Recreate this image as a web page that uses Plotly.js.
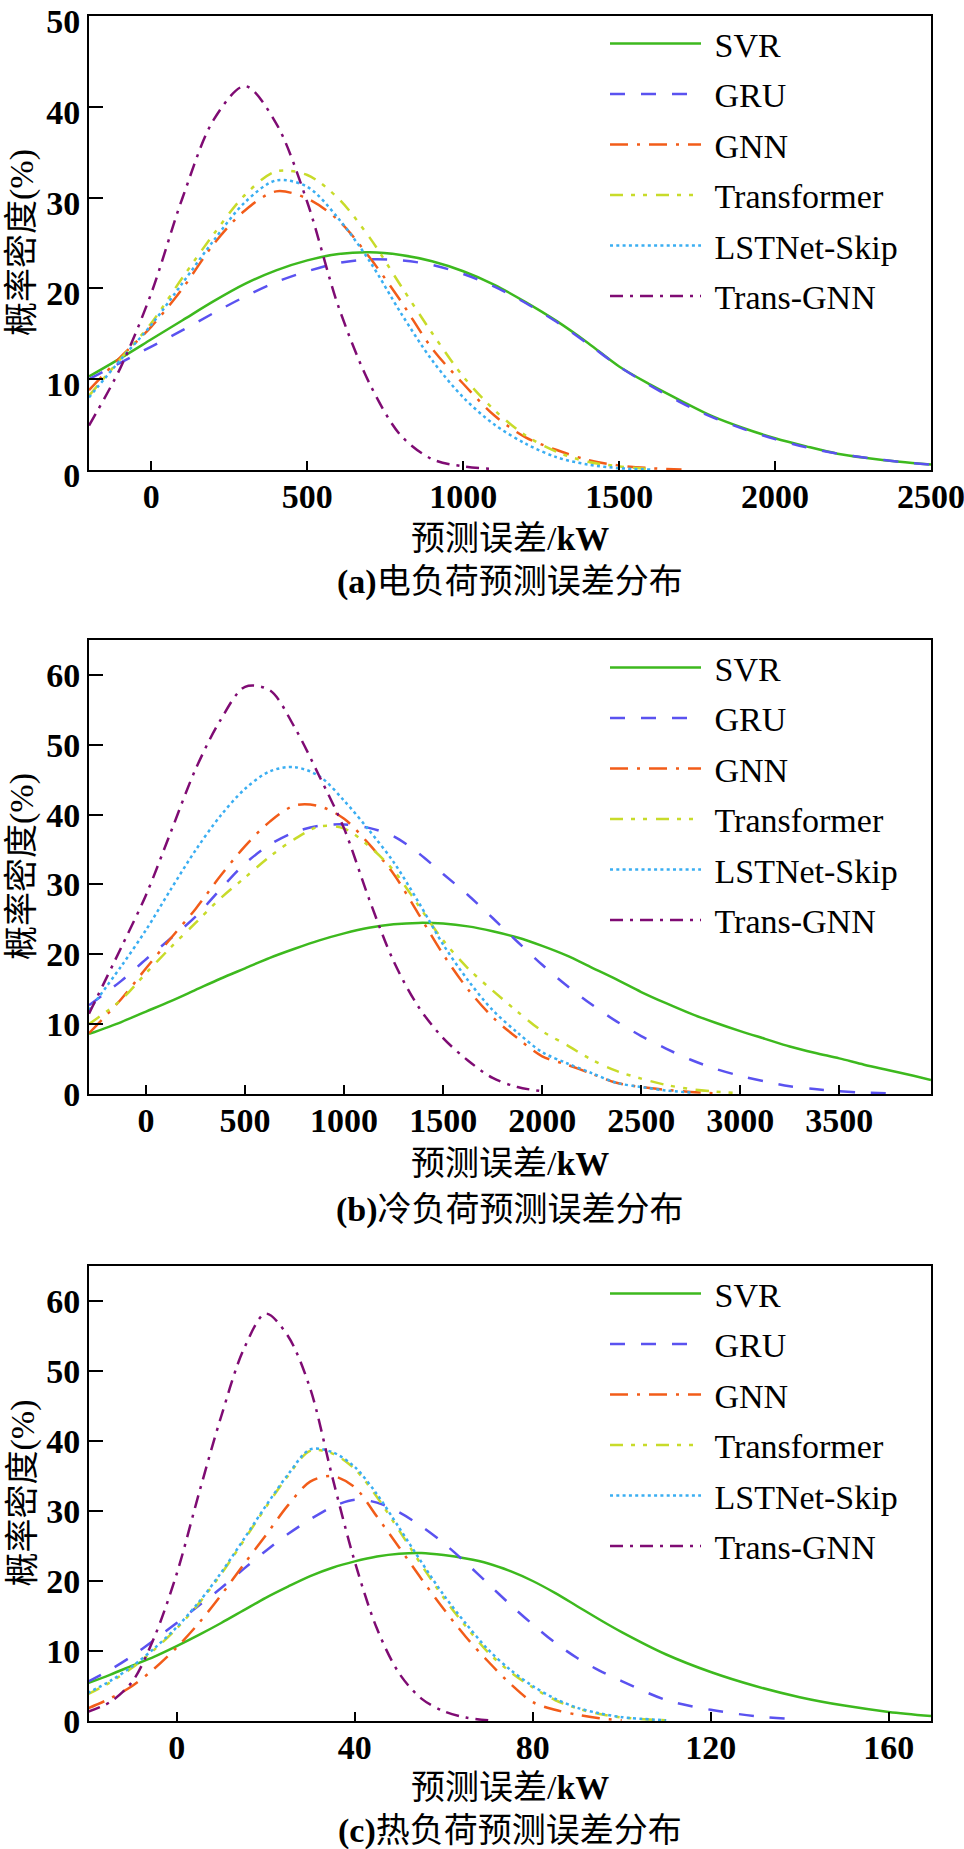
<!DOCTYPE html>
<html>
<head>
<meta charset="utf-8">
<script src="https://cdn.plot.ly/plotly-3.0.1.min.js"></script>
<style>body{margin:0;background:#fff;}#chart{width:964px;height:1849px;}</style>
</head>
<body>
<div id="chart"></div>
<script>
// ---------- series names ----------
const seriesNames = ['SVR', 'GRU', 'GNN', 'Transformer', 'LSTNet-Skip', 'Trans-GNN'];

// ---------- panel (a): electric load, error in kW ----------
const xA = [-200,-100,0,100,200,300,400,500,600,700,800,900,1000,1100,1200,1300,1400,1500,1600,1700,1800,1900,2000,2100,2200,2300,2400,2500];
const aSVR   = [10.3,12.3,14.4,16.5,18.6,20.5,22.0,23.1,23.8,24.0,23.7,23.0,21.9,20.4,18.5,16.4,14.0,11.4,9.4,7.6,5.9,4.6,3.5,2.6,1.8,1.3,0.9,0.6];
const aGRU   = [10.0,11.8,13.6,15.4,17.3,19.1,20.7,21.9,22.8,23.2,23.1,22.6,21.6,20.2,18.4,16.3,13.9,11.4,9.3,7.4,5.8,4.5,3.4,2.5,1.8,1.3,0.9,0.6];
const aGNN   = [8.8,12.4,15.8,20.0,24.9,28.6,30.7,29.9,27.5,23.4,18.6,13.4,9.5,6.0,3.6,2.2,1.1,0.5,0.2,0.05];
const aTrans = [8.2,12.2,16.2,21.2,26.0,30.3,32.9,32.5,29.9,25.6,20.3,15.1,10.3,6.6,3.8,2.0,0.9,0.4,0.1];
const aLST   = [8.0,12.1,16.0,20.6,25.3,29.5,31.9,31.2,27.7,23.0,17.3,12.1,8.0,5.0,2.9,1.4,0.6,0.2,0.05];
const aTGNN  = [4.9,11.2,19.5,30.0,38.6,42.3,38.2,29.5,18.0,9.5,3.8,1.2,0.4,0.1];

// ---------- panel (b): cooling load ----------
const xB = [-288,-125,0,125,250,375,500,625,750,875,1000,1125,1250,1375,1500,1625,1750,1875,2000,2125,2250,2375,2500,2625,2750,2875,3000,3125,3250,3375,3500,3625,3750,3875,3963];
const bSVR   = [8.6,10.3,11.8,13.3,14.9,16.5,18.0,19.5,20.8,22.0,23.0,23.8,24.3,24.5,24.4,24.0,23.3,22.4,21.2,19.8,18.1,16.4,14.6,13.0,11.5,10.2,9.0,7.9,6.8,5.9,5.1,4.2,3.4,2.6,2.0];
const bGRU   = [12.7,16.2,19.3,22.3,25.4,29.3,33.0,35.7,37.5,38.4,38.6,38.1,36.9,34.5,31.5,28.5,25.2,21.8,18.5,15.5,12.8,10.4,8.3,6.5,4.9,3.6,2.6,1.8,1.1,0.7,0.4,0.2,0.1];
const bGNN   = [8.7,13.6,18.0,22.3,26.5,31.2,35.5,39.0,41.3,41.2,39.4,35.8,31.5,25.8,20.0,15.0,11.0,8.0,5.4,4.2,2.9,1.6,1.0,0.6,0.3,0.1];
const bTrans = [10.0,13.5,17.3,21.0,24.5,28.0,31.0,34.0,36.5,38.3,38.0,35.5,32.0,27.0,22.0,18.0,14.8,11.8,9.0,7.0,4.9,3.3,2.2,1.3,0.7,0.35,0.1];
const bLST   = [12.0,18.3,23.5,29.3,34.9,39.8,43.7,46.2,46.8,45.5,42.0,37.8,33.2,27.5,21.4,16.3,12.0,8.8,6.0,4.4,3.0,1.6,1.0,0.5,0.2];
const bTGNN  = [11.5,21.0,28.5,37.5,46.5,53.5,58.3,57.8,52.5,45.5,38.0,28.0,19.0,12.5,8.0,4.8,2.3,1.0,0.4];

// ---------- panel (c): heating load ----------
const xC = [-20,-15,-10,-5,0,5,10,15,20,25,30,35,40,45,50,55,60,65,70,75,80,85,90,95,100,110,120,130,140,150,160,169.5];
const cSVR   = [5.4,6.6,7.9,9.2,10.7,12.3,14.0,15.8,17.6,19.2,20.7,21.9,22.8,23.5,23.9,24.0,23.7,23.2,22.5,21.4,20.0,18.3,16.4,14.5,12.7,9.5,7.0,5.0,3.4,2.2,1.3,0.7];
const cGRU   = [5.6,7.3,9.3,11.6,14.0,16.5,19.0,21.7,24.3,26.7,28.8,30.6,31.6,31.2,29.8,27.8,25.4,22.6,19.6,16.6,13.8,11.2,9.0,7.2,5.7,3.0,1.6,0.7,0.2];
const cGNN   = [1.8,3.2,5.0,7.5,10.5,14.0,18.0,22.3,26.5,30.8,34.2,35.0,33.4,29.2,24.8,20.3,16.0,12.0,8.5,5.3,2.7,1.6,0.9,0.4,0.1];
const cTrans = [3.8,5.5,7.6,10.2,13.2,16.8,21.0,25.7,30.5,35.0,38.6,38.2,36.0,32.0,27.2,22.3,17.6,13.5,9.8,7.0,4.8,3.0,1.8,1.0,0.5,0.1];
const cLST   = [4.0,5.7,7.8,10.4,13.4,17.0,21.2,25.9,30.7,35.2,38.8,38.4,36.3,32.4,27.6,22.7,18.0,13.9,10.2,7.3,5.0,3.2,1.9,1.1,0.55,0.1];
const cTGNN  = [1.3,2.7,5.6,12.0,21.0,32.5,43.5,53.0,58.2,55.0,47.5,34.8,22.8,13.2,6.8,3.2,1.4,0.5,0.1];

// ---------- tick labels ----------
const xTicksA = [0, 500, 1000, 1500, 2000, 2500];
const xTicksB = [0, 500, 1000, 1500, 2000, 2500, 3000, 3500];
const xTicksC = [0, 40, 80, 120, 160];
const yTicksA = [0, 10, 20, 30, 40, 50];
const yTicksBC = [0, 10, 20, 30, 40, 50, 60];

// ---------- texts ----------
const yTitle = '概率密度(%)';
const xTitle = '预测误差/<b>kW</b>';
const captions = ['<b>(a)</b>电负荷预测误差分布', '<b>(b)</b>冷负荷预测误差分布', '<b>(c)</b>热负荷预测误差分布'];

// ---------- styles ----------
const colors = ['#3DB91E', '#5A52F0', '#F25C19', '#C8DB2A', '#3AAEF2', '#7F0B73'];
const dashes = ['solid', '15px,16px', '18px,9px,3px,9px', '13px,8px,4px,8px,4px,9px', '3px,3.3px', '13px,7px,3px,7px'];

const W = 964, H = 1849;
const serif = 'Liberation Serif, Times New Roman, serif';
const cjk = 'Liberation Serif, Noto Sans CJK SC, serif';

const panels = [
  {x: xA, ys: [aSVR, aGRU, aGNN, aTrans, aLST, aTGNN], xr: [-200, 2500], yr: [0, 50.02], xt: xTicksA, yt: yTicksA, top: 16, bot: 470, xtitle: 538, cap: 582, yshift: 5},
  {x: xB, ys: [bSVR, bGRU, bGNN, bTrans, bLST, bTGNN], xr: [-288, 3963], yr: [0, 65], xt: xTicksB, yt: yTicksBC, top: 640, bot: 1094, xtitle: 1163, cap: 1210, yshift: 0},
  {x: xC, ys: [cSVR, cGRU, cGNN, cTrans, cLST, cTGNN], xr: [-19.7, 169.5], yr: [0, 65], xt: xTicksC, yt: yTicksBC, top: 1266, bot: 1721, xtitle: 1787, cap: 1831, yshift: 0}
];

const left = 89, right = 931;
const traces = [];
const layout = {
  width: W, height: H,
  margin: {l: 0, r: 0, t: 0, b: 0},
  paper_bgcolor: '#ffffff', plot_bgcolor: '#ffffff',
  showlegend: true,
  annotations: [],
  font: {family: serif, color: '#000'}
};

panels.forEach((p, pi) => {
  const sfx = pi === 0 ? '' : String(pi + 1);
  const legendId = 'legend' + sfx;
  p.ys.forEach((ys, si) => {
    traces.push({
      type: 'scatter', mode: 'lines',
      x: p.x.slice(0, ys.length), y: ys,
      name: '\u2005' + seriesNames[si],
      xaxis: 'x' + sfx, yaxis: 'y' + sfx,
      legend: legendId,
      legendgroup: 'g' + pi + '_' + si,
      line: {color: colors[si], width: 2.5, dash: dashes[si], shape: 'spline', smoothing: 0.9},
      hoverinfo: 'skip'
    });
  });
  const yd = [1 - p.bot / H, 1 - p.top / H];
  const tf = {family: serif, size: 34, color: '#000', weight: 'bold'};
  layout['xaxis' + sfx] = {
    domain: [left / W, right / W], anchor: 'y' + sfx, range: p.xr,
    tickmode: 'array', tickvals: p.xt, ticktext: p.xt.map(String),
    ticks: 'inside', ticklen: 9, tickwidth: 2, tickcolor: '#000',
    showline: true, linewidth: 2, linecolor: '#000', mirror: true,
    showgrid: false, zeroline: false, ticklabeloverflow: 'allow',
    ticklabelstandoff: -5,
    tickfont: tf
  };
  layout['yaxis' + sfx] = {
    domain: yd, anchor: 'x' + sfx, range: p.yr,
    tickmode: 'array', tickvals: p.yt, ticktext: p.yt.map(String),
    ticks: 'inside', ticklen: 14, tickwidth: 2, tickcolor: '#000',
    showline: true, linewidth: 2, linecolor: '#000', mirror: true,
    showgrid: false, zeroline: false, ticklabeloverflow: 'allow',
    ticklabelshift: p.yshift,
    tickfont: tf
  };
  layout[legendId] = {
    x: 605 / W, y: 1 - (p.top - 1) / H, xanchor: 'left', yanchor: 'top',
    bgcolor: 'rgba(0,0,0,0)', borderwidth: 0,
    font: {family: serif, size: 34, color: '#000'},
    itemwidth: 91, tracegroupgap: 3.3, traceorder: 'grouped'
  };
  const midY = 1 - (p.top + p.bot) / 2 / H;
  layout.annotations.push({
    xref: 'paper', yref: 'paper', x: 22 / W, y: midY, xanchor: 'center', yanchor: 'middle',
    text: yTitle, textangle: -90, showarrow: false,
    font: {family: cjk, size: 34, color: '#000'}
  });
  layout.annotations.push({
    xref: 'paper', yref: 'paper', x: 510 / W, y: 1 - p.xtitle / H, xanchor: 'center', yanchor: 'middle',
    text: xTitle, showarrow: false, font: {family: cjk, size: 34, color: '#000'}
  });
  layout.annotations.push({
    xref: 'paper', yref: 'paper', x: 510 / W, y: 1 - p.cap / H, xanchor: 'center', yanchor: 'middle',
    text: captions[pi], showarrow: false, font: {family: cjk, size: 34, color: '#000'}
  });
});

Plotly.newPlot('chart', traces, layout, {staticPlot: true, displayModeBar: false});
</script>
</body>
</html>
